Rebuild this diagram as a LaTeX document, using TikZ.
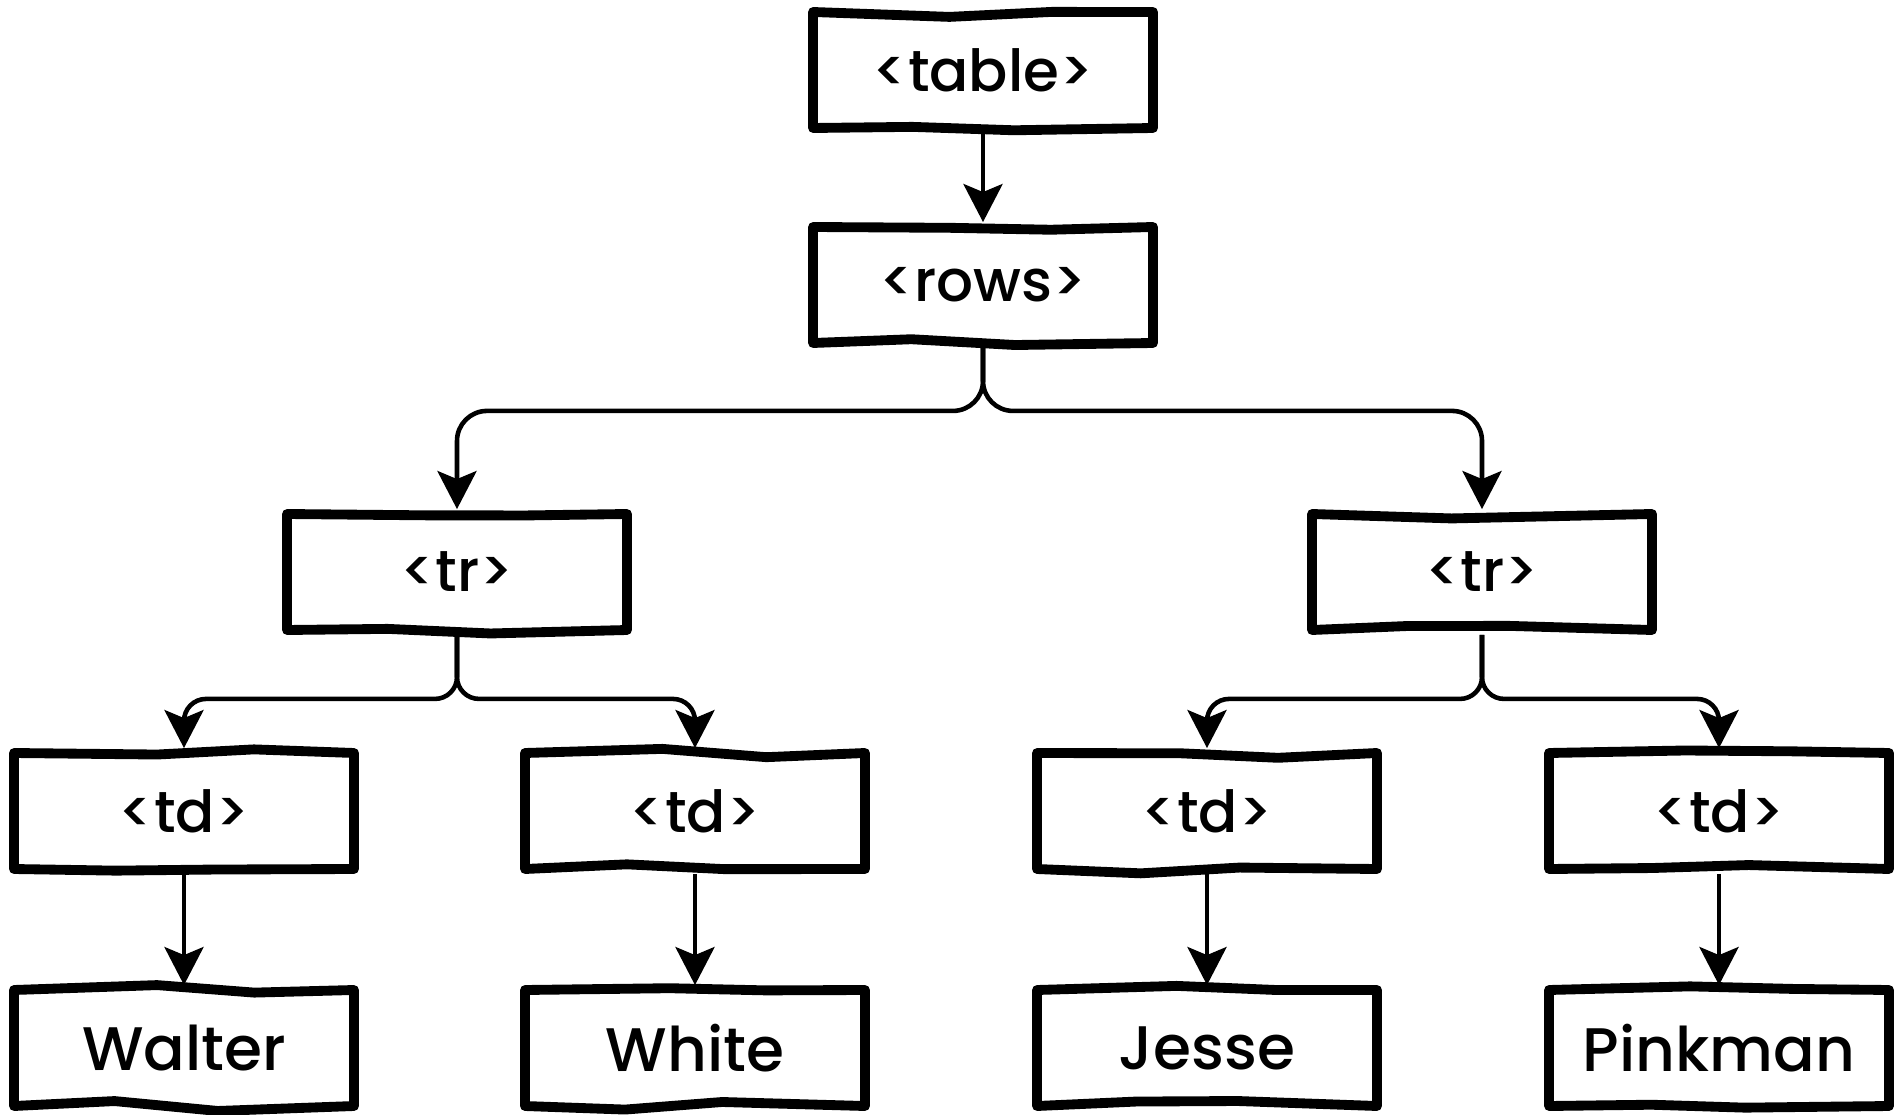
\documentclass[tikz,border=0pt]{standalone}
\usepackage{fontspec}
\setmainfont{Poppins}[UprightFont=* Medium]
\usetikzlibrary{arrows.meta, decorations.pathmorphing}

\tikzset{
    tag/.style={draw, line width=2.8pt, line join=round, minimum width=3.4cm, minimum height=1.16cm,
        inner sep=0pt, font=\fontsize{16.5}{18}\selectfont,
        decorate, decoration={random steps, segment length=1cm, amplitude=0.05cm}},
    word/.style={tag, font=\fontsize{17.5}{20}\selectfont},
    link/.style={line width=1.3pt, -{Stealth[length=3.8mm, width=3.9mm, inset=0.8mm]}},
    elbow/.style={rounded corners=#1},
    elbow/.default=0.3cm
}

\begin{document}
\begin{tikzpicture}
    \pgfmathsetseed{7}
    \useasboundingbox (0,0) rectangle (19,-11.15);
    % Top of the tree
    \node[tag] (table) at (9.83,-0.70) {<table>};
    \node[tag] (rows) at (9.83,-2.85) {<rows>};
    % Rows
    \node[tag] (trA) at (4.57,-5.72) {<tr>};
    \node[tag] (trB) at (14.82,-5.72) {<tr>};
    % Cells
    \foreach \n/\x in {1/1.84, 2/6.95, 3/12.07, 4/17.19}
    {
        \node[tag] (td\n) at (\x,-8.11) {<td>};
    }
    % Cell contents
    \node[word] (walter) at (1.84,-10.48) {Walter};
    \node[word] (white) at (6.95,-10.48) {White};
    \node[word] (jesse) at (12.07,-10.48) {Jesse};
    \node[word] (pinkman) at (17.19,-10.48) {Pinkman};

    % Links
    \draw[link] (table) -- (rows);
    \draw[link] (rows.south) [elbow] -- ++(0,-0.63) -| (trA.north) [sharp corners];
    \draw[link] (rows.south) [elbow] -- ++(0,-0.63) -| (trB.north) [sharp corners];
    \draw[link] (trA.south) [elbow=0.22cm] -- ++(0,-0.64) -| (td1.north) [sharp corners];
    \draw[link] (trA.south) [elbow=0.22cm] -- ++(0,-0.64) -| (td2.north) [sharp corners];
    \draw[link] (trB.south) [elbow=0.22cm] -- ++(0,-0.64) -| (td3.north) [sharp corners];
    \draw[link] (trB.south) [elbow=0.22cm] -- ++(0,-0.64) -| (td4.north) [sharp corners];
    \draw[link] (td1) -- (walter);
    \draw[link] (td2) -- (white);
    \draw[link] (td3) -- (jesse);
    \draw[link] (td4) -- (pinkman);
\end{tikzpicture}
\end{document}
